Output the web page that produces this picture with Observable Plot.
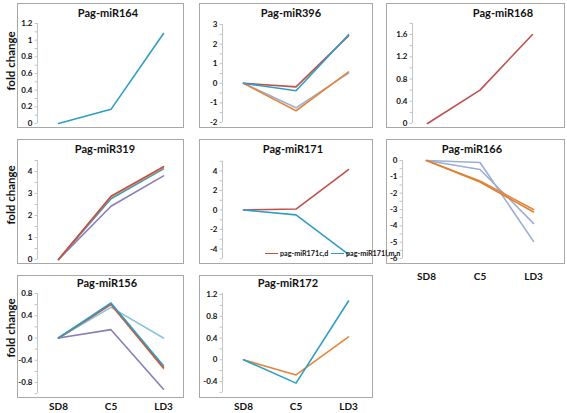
<!DOCTYPE html>
<html><head><meta charset="utf-8">
<script src="https://cdn.jsdelivr.net/npm/d3@7"></script>
<script src="https://cdn.jsdelivr.net/npm/@observablehq/plot@0.6"></script>
<style>
body{margin:0;background:#fff;font-family:Lato,"Open Sans",sans-serif}
#root{position:relative;width:567px;height:413px;overflow:hidden}
.box{position:absolute;border:1.5px solid #a8a8a8;box-sizing:border-box}
.title{position:absolute;font-weight:bold;font-size:11px;transform:translate(-50%,-50%);white-space:nowrap;color:#111}
.ylab{position:absolute;font-weight:bold;font-size:11.5px;transform:translate(-50%,-50%) rotate(-90deg);white-space:nowrap;color:#111}
.leg{position:absolute;font-weight:bold;font-size:7.2px;line-height:9px;height:9px;white-space:nowrap;color:#111;display:flex;align-items:center}
.leg span.l{display:inline-block;width:13px;height:1.5px;margin-right:2px}
#root svg{position:absolute;overflow:visible}
</style></head><body><div id="root"></div>
<script>
const cats = ["SD8", "C5", "LD3"];

// series values (SD8, C5, LD3)
const miR164_teal = [0, 0.17, 1.08];
const miR396_gblue = [0, -1.25, 0.52];
const miR396_orange = [0, -1.4, 0.58];
const miR396_red = [0, -0.18, 2.42];
const miR396_teal = [0, -0.38, 2.48];
const miR168_red = [0, 0.6, 1.6];
const miR319_purple = [0, 2.42, 3.8];
const miR319_teal = [0, 2.76, 4.12];
const miR319_orange = [0, 2.85, 4.18];
const miR319_red = [0, 2.88, 4.22];
const miR171cd = [0, 0.1, 4.15];
const miR171lmn = [0, -0.5, -4.55];
const miR166_gblue1 = [0, -0.12, -4.95];
const miR166_gblue2 = [0, -0.55, -3.85];
const miR166_orange1 = [0, -1.25, -3.0];
const miR166_orange2 = [0, -1.32, -3.15];
const miR156_purple = [0, 0.15, -0.92];
const miR156_lblue = [0, 0.55, 0.0];
const miR156_orange = [0, 0.6, -0.55];
const miR156_red = [0, 0.61, -0.53];
const miR156_teal = [0, 0.63, -0.5];
const miR172_orange = [0, -0.28, 0.42];
const miR172_teal = [0, -0.43, 1.08];

// tick labels
const ticks164 = [0, 0.2, 0.4, 0.6, 0.8, 1, 1.2];
const ticks396 = [-2, -1, 0, 1, 2, 3];
const ticks168 = [0, 0.4, 0.8, 1.2, 1.6];
const ticks319 = [0, 1, 2, 3, 4];
const ticks171 = [-4, -2, 0, 2, 4];
const ticks166 = [0, -1, -2, -3, -4, -5, -6];
const ticks156 = [0.8, 0.4, 0, -0.4, -0.8];
const ticks172 = [1.2, 0.8, 0.4, 0, -0.4];

const C = {teal:"#2f9ec4", red:"#c0504d", orange:"#e5863b", gblue:"#9aaed6", purple:"#8a7db5", lblue:"#86c5dc"};

const panels = [
  {title:"Pag-miR164", tx:108, ty:12, bx:17, by:3, bw:167, bh:125, xa:37, x0:58, x2:163,
   ym:[0,123,1.2,23], line:[0,1.2], ticks:ticks164, xlab:0,
   series:[["a",miR164_teal,C.teal]]},
  {title:"Pag-miR396", tx:291, ty:12, bx:199, by:3, bw:174, bh:125, xa:222, x0:243, x2:348,
   ym:[-2,122,3,24], line:[-2,3], ticks:ticks396, xlab:0,
   series:[["a",miR396_gblue,C.gblue],["b",miR396_orange,C.orange],["c",miR396_red,C.red],["d",miR396_teal,C.teal]]},
  {title:"Pag-miR168", tx:503, ty:12, bx:386, by:3, bw:179, bh:125, xa:412, x0:427, x2:532,
   ym:[0,123,1.6,34], line:[0,1.8], ticks:ticks168, xlab:0,
   series:[["a",miR168_red,C.red]]},
  {title:"Pag-miR319", tx:105, ty:148, bx:17, by:139, bw:167, bh:125, xa:37, x0:58, x2:163,
   ym:[0,259,4,171], line:[0,4.5], ticks:ticks319, xlab:0,
   series:[["a",miR319_purple,C.purple],["b",miR319_teal,C.teal],["c",miR319_orange,C.orange],["d",miR319_red,C.red]]},
  {title:"Pag-miR171", tx:293, ty:148, bx:199, by:139, bw:174, bh:125, xa:222, x0:243, x2:348,
   ym:[-4,248.5,4,170.5], line:[-5,5], ticks:ticks171, xlab:0,
   series:[["a",miR171cd,C.red],["b",miR171lmn,C.teal]]},
  {title:"Pag-miR166", tx:472, ty:148, bx:386, by:139, bw:179, bh:125, xa:402, x0:426, x2:533,
   ym:[0,160,-6,258], line:[-6,0], ticks:ticks166, xlab:8,
   series:[["a",miR166_gblue1,C.gblue],["b",miR166_gblue2,C.gblue],["c",miR166_orange1,C.orange],["d",miR166_orange2,"#dd8034"]]},
  {title:"Pag-miR156", tx:107, ty:282, bx:17, by:275, bw:167, bh:123, xa:37, x0:58, x2:163,
   ym:[-0.8,382,0.8,293], line:[-1,0.8], ticks:ticks156, xlab:4,
   series:[["a",miR156_purple,C.purple],["b",miR156_lblue,C.lblue],["c",miR156_orange,C.orange],["d",miR156_red,C.red],["e",miR156_teal,C.teal]]},
  {title:"Pag-miR172", tx:288, ty:282, bx:199, by:275, bw:174, bh:123, xa:222, x0:243, x2:348,
   ym:[-0.4,381,1.2,294], line:[-0.6,1.22], ticks:ticks172, xlab:4,
   series:[["a",miR172_orange,C.orange],["b",miR172_teal,C.teal]]}
];

const root = document.getElementById("root");

function add(cls, html, style){
  const d = document.createElement("div");
  d.className = cls; d.innerHTML = html;
  Object.assign(d.style, style);
  root.appendChild(d);
  return d;
}

for (const p of panels) {
  add("box", "", {left:p.bx+"px", top:p.by+"px", width:p.bw+"px", height:p.bh+"px"});
  const data = [];
  p.series.forEach(([name, vals]) => vals.forEach((v, i) => data.push({s:name, i, v})));
  const step = (p.x2 - p.x0) / 2;
  const pad = (p.x0 - p.xa) / step;
  const ml = p.xa - p.bx;
  const minor = [];
  const dt = Math.abs(p.ticks[1] - p.ticks[0]) / 2;
  for (let t = Math.min(...p.line); t <= Math.max(...p.line) + 1e-9; t += dt) minor.push(+t.toFixed(6));
  const marks = [
    Plot.ruleX([-pad], {y1: p.line[0], y2: p.line[1], stroke:"#c4c4c4", strokeWidth:1}),
    Plot.axisY({ticks: minor, tickSize: 2.5, tickFormat: () => "", stroke:"#c4c4c4", label: null}),
    Plot.axisY({ticks: p.ticks, tickSize: 0, tickPadding: 5, tickFormat: d => String(d), label: null,
                fontWeight:"bold", fontSize:8, fill:"#111"}),
    Plot.line(data, {x:"i", y:"v", z:"s", stroke:"s", strokeWidth:1.6})
  ];
  if (p.xlab) marks.push(Plot.axisX({ticks:[0,1,2], tickFormat: i => cats[i], tickSize:0, tickPadding:p.xlab, label: null,
                fontWeight:"bold", fontSize:10, fill:"#111"}));
  const chart = Plot.plot({
    width: p.bw, height: p.bh + 14,
    marginLeft: ml, marginRight: 0, marginTop: 0, marginBottom: 14,
    style: {fontFamily: "Lato, sans-serif", background: "transparent", overflow: "visible"},
    x: {type:"linear", domain:[-pad, 2], range:[ml, p.x2 - p.bx], axis: null, label: null},
    y: {type:"linear", domain:[p.ym[0], p.ym[2]], range:[p.ym[1]-p.by, p.ym[3]-p.by], axis: null, label: null},
    color: {domain: p.series.map(s => s[0]), range: p.series.map(s => s[2])},
    marks
  });
  chart.style.left = p.bx + "px";
  chart.style.top = p.by + "px";
  root.appendChild(chart);
  add("title", p.title, {left:p.tx+"px", top:p.ty+"px"});
}

// y axis titles
for (const y of [61, 195, 328]) add("ylab", "fold change", {left:"10px", top:y+"px"});

// legend for Pag-miR171
add("leg", '<span class="l" style="background:'+C.red+'"></span>pag-miR171c,d', {left:"265px", top:"249px"});
add("leg", '<span class="l" style="background:'+C.teal+'"></span>pag-miR171l,m,n', {left:"331px", top:"249px"});
</script></body></html>
